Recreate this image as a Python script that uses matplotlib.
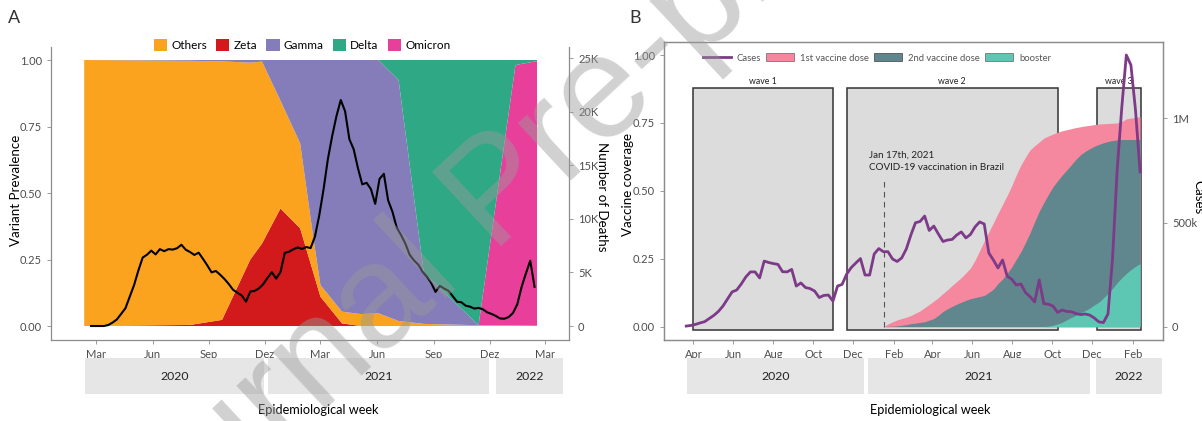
import numpy as np
import pandas as pd
import matplotlib
matplotlib.use('Agg')
import matplotlib.pyplot as plt
import matplotlib.dates as mdates
from matplotlib.patches import Patch, Rectangle
from matplotlib.lines import Line2D

plt.rcParams['font.family'] = ['Lato', 'DejaVu Sans']

W, H = 1202, 421

# ---------------- panel A data ----------------
# variant prevalence (read at the vertices of the stacked areas)
var_dates = pd.to_datetime(['2020-02-11', '2020-08-01', '2020-09-22', '2020-11-07', '2020-11-26',
                            '2020-12-26', '2021-01-27', '2021-02-18', '2021-03-01', '2021-04-05',
                            '2021-05-05', '2021-06-03', '2021-07-06', '2021-08-16', '2021-11-13',
                            '2022-01-12', '2022-02-16'])
zeta    = [0.0, 0.004, 0.023, 0.25, 0.31, 0.442, 0.367, 0.196, 0.11, 0.01, 0.0, 0.0, 0.0, 0.0, 0.0, 0.0, 0.0]
others  = [1.0, 0.993, 0.972, 0.74, 0.684, 0.405, 0.32, 0.127, 0.044, 0.044, 0.045, 0.048, 0.019, 0.008, 0.003, 0.002, 0.001]
omicron = [0.0, 0.0, 0.0, 0.0, 0.0, 0.0, 0.0, 0.0, 0.0, 0.0, 0.0, 0.0, 0.0, 0.0, 0.0, 0.979, 0.995]
gamma   = [0.0, 0.003, 0.005, 0.01, 0.006, 0.153, 0.313, 0.677, 0.846, 0.946, 0.955, 0.952, 0.906, 0.192, 0.0, 0.0, 0.0]
delta   = [0.0, 0.0, 0.0, 0.0, 0.0, 0.0, 0.0, 0.0, 0.0, 0.0, 0.0, 0.0, 0.075, 0.8, 0.997, 0.019, 0.004]

# weekly deaths
deaths_start = '2020-02-22'
deaths = [0, 0, 0, 0, 90, 320, 610, 1130, 1660, 2740, 3820, 5180, 6390, 6660, 7040, 6690, 7180, 6990,
          7180, 7140, 7270, 7590, 7130, 6910, 6640, 6850, 6280, 5670, 5010, 5140, 4790, 4390, 3920,
          3380, 3110, 2850, 2280, 3220, 3280, 3510, 3910, 4510, 5020, 4430, 5030, 6830, 6940, 7170,
          7340, 7200, 7380, 7280, 8350, 10320, 12760, 15570, 17730, 19610, 21110, 20070, 17450,
          16510, 14730, 13230, 13380, 12790, 11410, 13740, 14220, 11740, 10680, 9190, 8500, 7700,
          6660, 6130, 5730, 5070, 4620, 4030, 3190, 3750, 3500, 3290, 2790, 2270, 2220, 1900, 1810,
          1630, 1690, 1560, 1280, 1130, 940, 700, 680, 840, 1220, 2040, 3660, 4920, 6100, 3660]

# ---------------- panel B data ----------------
cases_start = '2020-03-21'
cases_k = [3, 6, 11, 18, 24, 39, 54, 73, 99, 133, 167, 176, 205, 239, 263, 263, 234, 315, 308, 303,
           299, 264, 263, 275, 195, 210, 188, 183, 171, 140, 150, 152, 123, 195, 203, 253,
           284, 306, 327, 248, 248, 349, 375, 360, 360, 325, 313, 330, 373, 440, 499, 505, 531, 462,
           483, 445, 409, 416, 419, 440, 455, 426, 443, 479, 503, 493, 354, 320, 282, 320, 243, 228,
           200, 205, 164, 144, 119, 224, 111, 108, 99, 69, 80, 73, 72, 63, 58, 61, 56, 42, 23, 20,
           61, 330, 752, 1050, 1304, 1256, 1040, 743]

vacc_start = '2021-01-16'
dose1 = [0.0, 0.01, 0.018, 0.025, 0.030, 0.035, 0.041, 0.050, 0.058, 0.070, 0.082, 0.094, 0.107, 0.122,
         0.136, 0.152, 0.166, 0.181, 0.198, 0.216, 0.245, 0.280, 0.315, 0.349, 0.382, 0.417, 0.450,
         0.483, 0.519, 0.559, 0.595, 0.624, 0.651, 0.666, 0.680, 0.694, 0.702, 0.709, 0.716, 0.721,
         0.725, 0.729, 0.733, 0.736, 0.739, 0.741, 0.744, 0.746, 0.747, 0.748, 0.749, 0.750, 0.755,
         0.765, 0.768, 0.770, 0.773]
dose2 = [0.0, 0.001, 0.002, 0.003, 0.005, 0.008, 0.011, 0.013, 0.016, 0.018, 0.024, 0.030, 0.042, 0.056,
         0.066, 0.075, 0.083, 0.090, 0.097, 0.103, 0.107, 0.111, 0.115, 0.126, 0.138, 0.159, 0.175,
         0.196, 0.220, 0.248, 0.276, 0.310, 0.346, 0.386, 0.425, 0.457, 0.487, 0.515, 0.537, 0.558,
         0.577, 0.596, 0.616, 0.633, 0.645, 0.655, 0.664, 0.671, 0.677, 0.682, 0.685, 0.688, 0.689,
         0.689, 0.689, 0.689, 0.689]
booster_start = '2021-09-18'
booster = [0.0, 0.002, 0.005, 0.010, 0.016, 0.025, 0.034, 0.042, 0.051, 0.059, 0.068, 0.080, 0.090,
           0.106, 0.122, 0.141, 0.162, 0.180, 0.196, 0.210, 0.222, 0.232]

waves = ['wave 1', 'wave 2', 'wave 3']
wave_start = pd.to_datetime(['2020-04-01', '2020-11-21', '2021-12-08'])
wave_end = pd.to_datetime(['2020-10-31', '2021-10-09', '2022-02-13'])

years = ['2020', '2021', '2022']
stripA_start = pd.to_datetime(['2020-02-12', '2020-12-05', '2021-12-12'])
stripA_end = pd.to_datetime(['2020-11-30', '2021-11-30', '2022-03-30'])
stripB_start = pd.to_datetime(['2020-03-22', '2020-12-23', '2021-12-06'])
stripB_end = pd.to_datetime(['2020-12-18', '2021-11-28', '2022-03-17'])

var_colors = {'Others': '#FBA31E', 'Zeta': '#D2191C', 'Gamma': '#847DB9', 'Delta': '#2FA885', 'Omicron': '#E8409A'}
c_case, c_d1, c_d2, c_boost = '#7D3A88', '#F5879F', '#5F878D', '#5EC7B4'
gray_txt = '#4d4d4d'
spine_c = '#8c8c8c'


def box(l, t, r, b):
    return [l / W, 1 - b / H, (r - l) / W, (b - t) / H]


fig = plt.figure(figsize=(W / 100, H / 100), dpi=100)

# ================= Panel A =================
axA = fig.add_axes(box(51, 47, 569, 340))
axA.stackplot(var_dates, zeta, others, omicron, gamma, delta,
              colors=[var_colors['Zeta'], var_colors['Others'], var_colors['Omicron'],
                      var_colors['Gamma'], var_colors['Delta']], linewidth=0)
xlimA = (pd.Timestamp('2019-12-19'), pd.Timestamp('2022-04-09'))
ylimA = (-0.0526, 1.0489)
axA.set_xlim(xlimA)
axA.set_ylim(ylimA)
axA.set_yticks([0, 0.25, 0.5, 0.75, 1.0])
axA.set_yticklabels(['0.00', '0.25', '0.50', '0.75', '1.00'])
ticksA = pd.date_range('2020-03-01', '2022-03-01', freq='3MS')
mon_pt = {3: 'Mar', 6: 'Jun', 9: 'Sep', 12: 'Dez'}
axA.set_xticks(ticksA)
axA.set_xticklabels([mon_pt[d.month] for d in ticksA])
for s in ['top', 'right']:
    axA.spines[s].set_visible(False)

axA2 = axA.twinx()
d_dates = pd.date_range(deaths_start, periods=len(deaths), freq='7D')
axA2.plot(d_dates, deaths, color='black', lw=1.5)
deaths_per_unit = 24850
axA2.set_ylim(ylimA[0] * deaths_per_unit, ylimA[1] * deaths_per_unit)
axA2.set_yticks([0, 5000, 10000, 15000, 20000, 25000])
axA2.set_yticklabels(['0', '5K', '10K', '15K', '20K', '25K'])
for s in ['top', 'left', 'bottom']:
    axA2.spines[s].set_visible(False)

leg_handles = [Patch(facecolor=var_colors[k], edgecolor='none', label=k)
               for k in ['Others', 'Zeta', 'Gamma', 'Delta', 'Omicron']]
fig.legend(handles=leg_handles, loc='center', bbox_to_anchor=(302 / W, 1 - 45 / H), ncol=5,
           frameon=False, fontsize=8.5, handlelength=1.15, handleheight=1.15, handletextpad=0.35,
           columnspacing=0.75)

# ================= Panel B =================
axB = fig.add_axes(box(664, 42, 1163, 340))
xlimB = (pd.Timestamp('2020-02-16'), pd.Timestamp('2022-03-19'))
ylimB = (-0.049, 1.048)
axB.set_xlim(xlimB)
axB.set_ylim(ylimB)

for name, ws, we in zip(waves, wave_start, wave_end):
    x0 = mdates.date2num(ws)
    x1 = mdates.date2num(we)
    axB.add_patch(Rectangle((x0, -0.012), x1 - x0, 0.89, facecolor='#dcdcdc', edgecolor='#333333',
                            lw=1.1, zorder=1))
    axB.text((x0 + x1) / 2, 0.885, name, ha='center', va='bottom', fontsize=6.3, color='#222222')

v_dates = pd.date_range(vacc_start, periods=len(dose1), freq='7D')
b_dates = pd.date_range(booster_start, periods=len(booster), freq='7D')
axB.fill_between(v_dates, 0, dose1, color=c_d1, lw=0, zorder=2)
axB.fill_between(v_dates, 0, dose2, color=c_d2, lw=0, zorder=3)
axB.fill_between(b_dates, 0, booster, color=c_boost, lw=0, zorder=4)

vax_day = pd.Timestamp('2021-01-17')
axB.plot([vax_day, vax_day], [0, 0.54], ls=(0, (5, 4)), color='#555555', lw=0.8, zorder=5)
axB.text(pd.Timestamp('2020-12-25'), 0.632, 'Jan 17th, 2021', fontsize=7.1, va='center', color='#222222')
axB.text(pd.Timestamp('2020-12-25'), 0.585, 'COVID-19 vaccination in Brazil', fontsize=7.1,
         va='center', color='#222222')

axB.set_yticks([0, 0.25, 0.5, 0.75, 1.0])
axB.set_yticklabels(['0.00', '0.25', '0.50', '0.75', '1.00'])
ticksB = pd.date_range('2020-04-01', '2022-02-01', freq='2MS')
mon_en = {2: 'Feb', 4: 'Apr', 6: 'Jun', 8: 'Aug', 10: 'Oct', 12: 'Dec'}
axB.set_xticks(ticksB)
axB.set_xticklabels([mon_en[d.month] for d in ticksB])

axB2 = axB.twinx()
c_dates = pd.date_range(cases_start, periods=len(cases_k), freq='7D')
axB2.plot(c_dates, np.array(cases_k) * 1000, color=c_case, lw=2)
cases_per_unit = 1.304e6
axB2.set_ylim(ylimB[0] * cases_per_unit, ylimB[1] * cases_per_unit)
axB2.set_yticks([0, 500000, 1000000])
axB2.set_yticklabels(['0', '500k', '1M'])

legB = [Line2D([], [], color=c_case, lw=2, label='Cases'),
        Patch(facecolor=c_d1, edgecolor='#777777', lw=0.6, label='1st vaccine dose'),
        Patch(facecolor=c_d2, edgecolor='#555555', lw=0.6, label='2nd vaccine dose'),
        Patch(facecolor=c_boost, edgecolor='#777777', lw=0.6, label='booster')]
fig.legend(handles=legB, loc='center left', bbox_to_anchor=(694 / W, 1 - 58 / H), ncol=4,
           frameon=False, fontsize=6.8, handlelength=3.0, handleheight=0.9, handletextpad=0.6,
           columnspacing=0.55, labelcolor='#555555')

# common styling
for ax in [axA, axA2, axB, axB2]:
    ax.tick_params(labelsize=8, labelcolor=gray_txt, color=spine_c, length=3, width=0.6)
    for s in ax.spines.values():
        s.set_color(spine_c)
        s.set_linewidth(0.9)

# axis titles
fig.text(16 / W, 1 - 190 / H, 'Variant Prevalence', rotation=90, ha='center', va='center', fontsize=9.6)
fig.text(602 / W, 1 - 197 / H, 'Number of Deaths', rotation=270, ha='center', va='center', fontsize=9.6)
fig.text(628 / W, 1 - 185 / H, 'Vaccine coverage', rotation=90, ha='center', va='center', fontsize=9.6)
fig.text(1198 / W, 1 - 197 / H, 'Cases', rotation=270, ha='center', va='center', fontsize=9.6)

# year strips
for strip_box, xl, st, en in [((51, 358, 569, 394), xlimA, stripA_start, stripA_end),
                              ((664, 358, 1163, 394), xlimB, stripB_start, stripB_end)]:
    sax = fig.add_axes(box(*strip_box))
    sax.set_xlim(xl)
    sax.set_ylim(0, 1)
    sax.axis('off')
    for y, s, e in zip(years, st, en):
        sax.axvspan(s, e, color='#e6e6e6', lw=0)
        sax.text(s + (e - s) / 2, 0.5, y, ha='center', va='center', fontsize=8.8, color='#222222')

fig.text(318 / W, 1 - 410 / H, 'Epidemiological week', ha='center', va='center', fontsize=9.2)
fig.text(930 / W, 1 - 410 / H, 'Epidemiological week', ha='center', va='center', fontsize=9.2)
fig.text(8 / W, 1 - 18 / H, 'A', fontsize=13, color='#333333', va='center')
fig.text(629 / W, 1 - 18 / H, 'B', fontsize=13, color='#333333', va='center')

# watermark
fig.text(500 / W, 1 - 195 / H, 'Journal Pre-proof', rotation=43, fontsize=106, color='#9a9a9a',
         alpha=0.45, ha='center', va='center', family='Liberation Sans', zorder=100)

fig.savefig('out.png', dpi=100)
